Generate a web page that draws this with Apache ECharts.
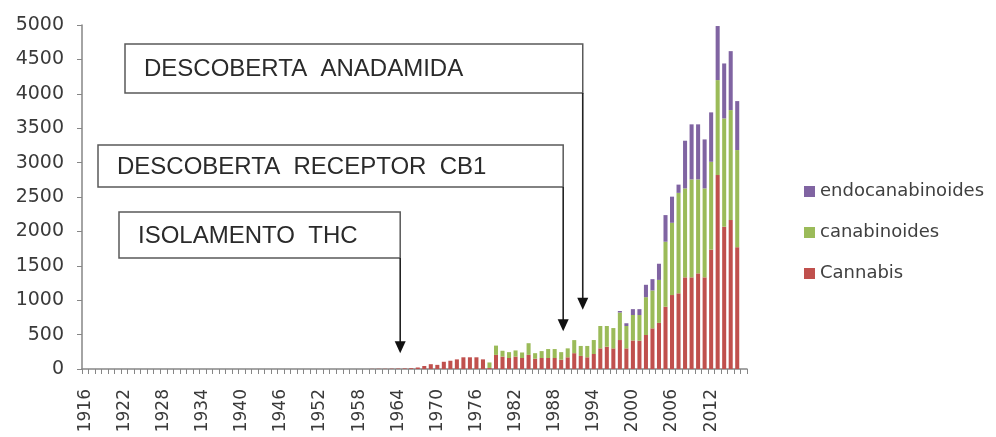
<!DOCTYPE html>
<html>
<head>
<meta charset="utf-8">
<script src="https://cdn.jsdelivr.net/npm/echarts@6/dist/echarts.min.js"></script>
<style>
  html, body { margin: 0; padding: 0; background: #fff; }
  #chart { width: 996px; height: 437px; }
</style>
</head>
<body>
<div id="chart"></div>
<script>
// anos 1916 .. 2017 (eixo de categorias)
const years = [];
for (let y = 1916; y <= 2017; y++) years.push(String(y));

const yTicks = [0, 500, 1000, 1500, 2000, 2500, 3000, 3500, 4000, 4500, 5000];

// publicações por ano
const cannabis = [
  0, 0, 0, 0,                                           // 1916-1919
  0, 0, 0, 0, 0, 0, 0, 0, 0, 0,                         // 1920s
  0, 0, 0, 0, 0, 0, 0, 0, 0, 0,                         // 1930s
  0, 0, 0, 0, 0, 0, 0, 0, 0, 0,                         // 1940s
  0, 0, 0, 0, 0, 0, 0, 0, 0, 0,                         // 1950s
  2, 3, 3, 5, 6, 8, 12, 22, 44, 70,                     // 1960s
  60, 105, 120, 140, 170, 170, 170, 140, 15, 205,       // 1970s
  180, 160, 180, 160, 205, 150, 160, 160, 160, 135,     // 1980s
  170, 230, 190, 170, 218, 300, 324, 300, 421, 300,     // 1990s
  415, 411, 494, 591, 670, 905, 1075, 1100, 1332, 1332, // 2000s
  1390, 1332, 1735, 2819, 2068, 2165, 1770, 0           // 2010-2017
];

const canabinoides = [
  0, 0, 0, 0,
  0, 0, 0, 0, 0, 0, 0, 0, 0, 0,
  0, 0, 0, 0, 0, 0, 0, 0, 0, 0,
  0, 0, 0, 0, 0, 0, 0, 0, 0, 0,
  0, 0, 0, 0, 0, 0, 0, 0, 0, 0,
  0, 0, 0, 0, 0, 0, 0, 0, 0, 0,
  0, 0, 0, 0, 0, 0, 0, 0, 80, 135,
  85, 85, 90, 80, 170, 80, 100, 130, 130, 110,
  130, 190, 145, 165, 203, 325, 301, 295, 400, 325,
  370, 374, 550, 550, 625, 945, 1050, 1460, 1293, 1424,
  1366, 1293, 1277, 1380, 1574, 1598, 1412, 0
];

const endocanabinoides = [
  0, 0, 0, 0,
  0, 0, 0, 0, 0, 0, 0, 0, 0, 0,
  0, 0, 0, 0, 0, 0, 0, 0, 0, 0,
  0, 0, 0, 0, 0, 0, 0, 0, 0, 0,
  0, 0, 0, 0, 0, 0, 0, 0, 0, 0,
  0, 0, 0, 0, 0, 0, 0, 0, 0, 0,
  0, 0, 0, 0, 0, 0, 0, 0, 0, 0,
  0, 0, 0, 0, 0, 0, 0, 0, 0, 0,
  0, 0, 0, 0, 0, 0, 0, 0, 22, 40,
  85, 85, 180, 165, 235, 387, 380, 120, 693, 800,
  800, 712, 718, 786, 799, 857, 712, 0
];

// marcos históricos (caixa + seta)
const annoLabels = ['DESCOBERTA  ANADAMIDA', 'DESCOBERTA  RECEPTOR  CB1', 'ISOLAMENTO  THC'];
const annoYears = ['1992', '1989', '1964'];
const annoTipValues = [860, 550, 230];

const chart = echarts.init(document.getElementById('chart'));

const axisGray = '#868686';
const labelFont = 'DejaVu Sans';

chart.setOption({
  animation: false,
  backgroundColor: '#fff',
  grid: { left: 82, right: 249, top: 25, bottom: 68 },
  legend: {
    orient: 'vertical',
    left: 799,
    top: 176,
    itemWidth: 11,
    itemHeight: 11,
    itemGap: 20,
    icon: 'rect',
    data: ['endocanabinoides', 'canabinoides', 'Cannabis'],
    textStyle: { fontFamily: labelFont, fontSize: 18, color: '#404040', lineHeight: 21 }
  },
  xAxis: {
    type: 'category',
    data: years,
    axisLine: { lineStyle: { color: axisGray, width: 1.5 } },
    axisTick: { show: true, interval: 0, length: 5, lineStyle: { color: axisGray } },
    axisLabel: {
      interval: 5,
      rotate: 90,
      margin: 20,
      fontFamily: labelFont,
      fontSize: 17,
      color: '#3a3a3a'
    },
    splitLine: { show: false }
  },
  yAxis: {
    type: 'value',
    min: yTicks[0],
    max: yTicks[yTicks.length - 1],
    interval: 500,
    axisLine: { show: true, lineStyle: { color: axisGray, width: 1.5 } },
    axisTick: { show: true, length: 5, lineStyle: { color: axisGray } },
    axisLabel: {
      margin: 18,
      fontFamily: labelFont,
      fontSize: 19,
      color: '#3a3a3a',
      formatter: (v) => String(v)
    },
    splitLine: { show: false }
  },
  series: [
    {
      name: 'Cannabis',
      type: 'bar',
      stack: 'total',
      data: cannabis,
      barCategoryGap: '38%',
      itemStyle: { color: '#C0504D' }
    },
    {
      name: 'canabinoides',
      type: 'bar',
      stack: 'total',
      data: canabinoides,
      itemStyle: { color: '#9BBB59' }
    },
    {
      name: 'endocanabinoides',
      type: 'bar',
      stack: 'total',
      data: endocanabinoides,
      itemStyle: { color: '#8064A2' }
    }
  ]
});

// caixas de texto (posições de layout) e setas apontando para o ano
const boxes = [
  { left: 125, top: 44, height: 49 },
  { left: 98, top: 145, height: 42 },
  { left: 119, top: 212, height: 46 }
];

const graphics = [];
annoLabels.forEach((txt, i) => {
  const ax = chart.convertToPixel({ xAxisIndex: 0 }, annoYears[i]) + 2;
  const tipY = chart.convertToPixel({ yAxisIndex: 0 }, annoTipValues[i]);
  const b = boxes[i];
  graphics.push({
    type: 'rect',
    shape: { x: b.left, y: b.top, width: ax - b.left, height: b.height },
    style: { fill: '#fff', stroke: '#5a5a5a', lineWidth: 1.5 },
    z: 10
  });
  graphics.push({
    type: 'text',
    style: {
      text: txt,
      x: b.left + 19,
      y: b.top + b.height / 2 + 1,
      fill: '#2a2a2a',
      font: '24px "Liberation Sans"',
      verticalAlign: 'middle'
    },
    z: 11
  });
  graphics.push({
    type: 'line',
    shape: { x1: ax, y1: b.top + b.height, x2: ax, y2: tipY - 8 },
    style: { stroke: '#222', lineWidth: 1.6 },
    z: 10
  });
  graphics.push({
    type: 'polygon',
    shape: { points: [[ax - 5.5, tipY - 12], [ax + 5.5, tipY - 12], [ax, tipY]] },
    style: { fill: '#111' },
    z: 10
  });
});

chart.setOption({ graphic: graphics });
</script>
</body>
</html>
